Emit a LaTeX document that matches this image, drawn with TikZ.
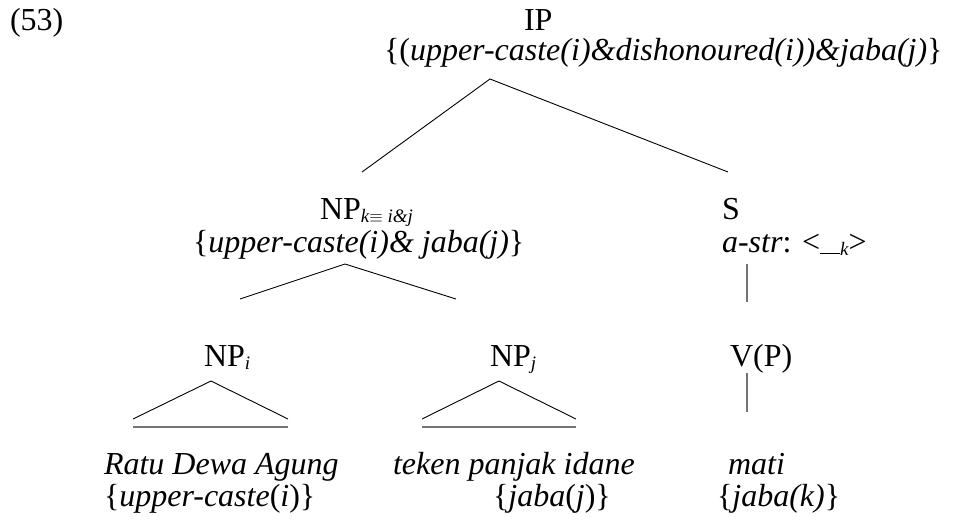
\documentclass[tikz,border=0pt]{standalone}
\usepackage{fontspec}
\setmainfont{Liberation Serif}
\newcommand\sbx[1]{\raisebox{-3pt}{\fontsize{19}{19}\selectfont\itshape #1}}
\tikzset{
  txt/.style={inner sep=0pt,outer sep=0pt,anchor=base west,font=\fontsize{32}{32}\selectfont},
  branch/.style={draw=black,line width=0.9pt},
  stem/.style={draw=black!55,line width=1.2pt},
  base/.style={draw=black!55,line width=2.6pt}
}
\begin{document}
\begin{tikzpicture}[x=1pt,y=-1pt]
\path[use as bounding box] (0,0) rectangle (955,522);
% texts
\node[txt] (ex) at (10,30) {(53)};
\node[txt] (ip) at (524,30) {IP};
\node[txt] (ipl) at (384,60) {\{(\textit{upper-caste(i)\&dishonoured(i))\&jaba(j)}\}};
\node[txt] (npk) at (320,219) {NP\sbx{k$\equiv$ i\&j}};
\node[txt] (npkl) at (193,252) {\{\textit{upper-caste(i)\& jaba(j)}\}};
\node[txt] (s) at (722,219) {S};
\node[txt] (sl) at (722,252) {\textit{a-str}: <\underline{\hspace{20pt}}\sbx{k}>};
\node[txt] (npi) at (204,366) {NP\sbx{i}};
\node[txt] (npj) at (490,366) {NP\sbx{j}};
\node[txt] (vp) at (730,366) {V(P)};
\node[txt] (w1) at (104,474) {\textit{Ratu Dewa Agung}};
\node[txt] (w1l) at (104,506) {\{\textit{upper-caste}(\textit{i})\}};
\node[txt] (w2) at (393,474) {\textit{teken panjak idane}};
\node[txt] (w2l) at (493,506) {\{\textit{jaba}(\textit{j})\}};
\node[txt] (w3) at (728,474) {\textit{mati}};
\node[txt] (w3l) at (717,506) {\{\textit{jaba(k)}\}};
% branch points
\coordinate (ipA) at (490,79);
\coordinate (ipL) at (362,172);
\coordinate (ipR) at (728,172);
\coordinate (npkA) at (345,264);
\coordinate (npkL) at (240,299);
\coordinate (npkR) at (456,299);
\coordinate (sT) at (747,264);
\coordinate (sB) at (747,302);
\coordinate (npiA) at (211,381);
\coordinate (npiL) at (133,419);
\coordinate (npiR) at (288,419);
\coordinate (npiBL) at (133,427);
\coordinate (npiBR) at (288,427);
\coordinate (npjA) at (499,381);
\coordinate (npjL) at (422,419);
\coordinate (npjR) at (576,419);
\coordinate (npjBL) at (422,427);
\coordinate (npjBR) at (576,427);
\coordinate (vpT) at (747,373);
\coordinate (vpB) at (747,412);
% connectors
\draw[branch] (ipL) -- (ipA) -- (ipR);
\draw[branch] (npkL) -- (npkA) -- (npkR);
\draw[stem] (sT) -- (sB);
\draw[branch] (npiL) -- (npiA) -- (npiR);
\draw[base] (npiBL) -- (npiBR);
\draw[branch] (npjL) -- (npjA) -- (npjR);
\draw[base] (npjBL) -- (npjBR);
\draw[stem] (vpT) -- (vpB);
\end{tikzpicture}
\end{document}
